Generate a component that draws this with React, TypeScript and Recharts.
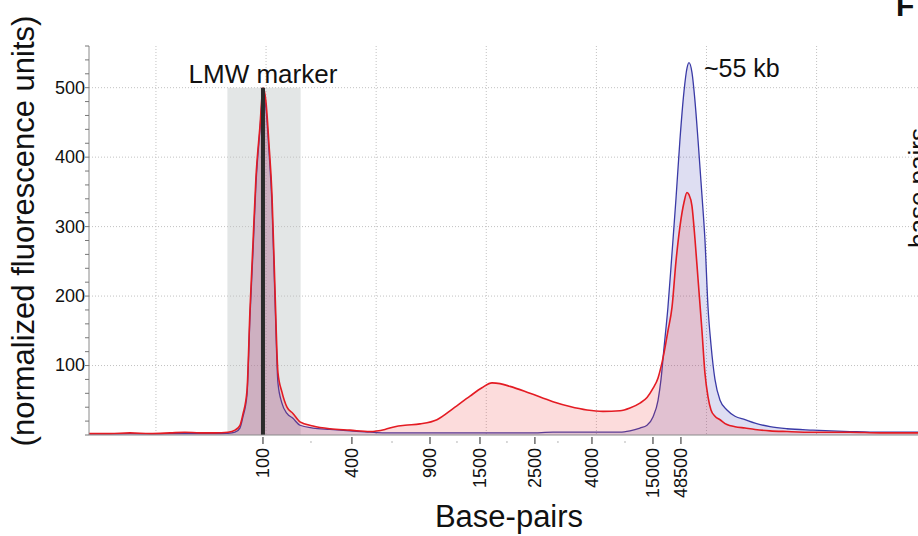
import React from 'react';
import {
  ComposedChart,
  Area,
  XAxis,
  YAxis,
  CartesianGrid,
  ReferenceArea,
  ReferenceLine,
  ReferenceDot,
} from 'recharts';

const FONT = '"Liberation Sans", Arial, Helvetica, sans-serif';

// Migration time (s) of each sampled point of the electropherogram
const runTime = [
  3.92, 5.82, 7.64, 9.46, 11.27, 12.63, 14.0, 15.36, 16.54, 17.18, 17.63, 17.9, 18.27, 18.54, 18.81,
  19.08, 19.45, 19.72, 19.99, 20.26, 20.54, 20.81, 21.08, 21.44, 21.9, 22.44, 23.08, 24.26, 25.8,
  27.62, 29.44, 30.8, 31.71, 32.62, 33.98, 35.52, 36.98, 38.52, 39.61, 40.52, 41.24, 42.15, 43.97,
  46.06, 47.6, 49.15, 50.6, 52.14, 53.05, 53.96, 54.6, 55.14, 55.6, 55.87, 56.14, 56.5, 56.87,
  57.23, 57.59, 57.96, 58.23, 58.41, 58.68, 58.96, 59.23, 59.59, 59.86, 60.14, 60.41, 60.77,
  61.23, 61.86, 62.59, 63.5, 64.41, 65.77, 67.31, 69.67, 73.03, 75.76, 79.21,
];

// Normalized fluorescence, blue trace
const rfuBlue = [
  1.5, 1.5, 2, 1.5, 2, 2, 2, 2, 2.5, 4, 10, 26, 58, 170, 262,
  360, 440, 492, 470, 410, 330, 195, 75, 46, 31, 24, 14, 10, 8,
  6, 4, 3, 3, 3, 3, 3, 3, 3, 3, 3, 3, 3, 3,
  4, 4, 4, 4, 4, 6, 10, 14, 26, 50, 80, 125, 184, 262,
  340, 425, 495, 528, 536, 522, 480, 425, 345, 281, 184, 130, 80,
  50, 36, 27, 22, 17, 12, 9, 7, 5, 4, 4,
];

// Normalized fluorescence, red trace
const rfuRed = [
  2, 2, 3, 2, 3, 4, 3, 3, 4, 7, 14, 30, 64, 180, 275,
  370, 445, 500, 480, 420, 345, 210, 90, 62, 40, 31, 19, 13, 9,
  7, 5, 8, 12, 14, 16, 22, 38, 56, 68, 75, 74, 70, 60,
  48, 41, 36, 34, 35, 39, 46, 54, 67, 82, 98, 118, 150, 184,
  250, 300, 335, 349, 346, 330, 281, 225, 150, 89, 55, 36, 27,
  22, 15, 12, 10, 8, 6, 5, 4, 4, 3, 3,
];

// Size-ladder bands (run time -> base pairs)
const ladderTime = [19.72, 27.8, 34.89, 39.43, 44.42, 49.6, 55.14, 57.68];
const ladderBp = ['100', '400', '900', '1500', '2500', '4000', '15000', '48500'];
const minorLadderTime = [24.08, 31.44, 37.34, 41.88, 46.51, 52.6];

const gridTime = [10, 20, 30, 40, 50, 60, 70];
const rfuTicks = [
  0, 20, 40, 60, 80, 100, 120, 140, 160, 180, 200, 220, 240, 260, 280, 300, 320, 340, 360, 380,
  400, 420, 440, 460, 480, 500, 520, 540, 560,
];
const rfuLabelled = [100, 200, 300, 400, 500];

const markerWindow = [16.49, 23.14];
const markerTime = 19.72;
const markerRfu = 500;
const peakTime = 58.41;
const peakRfu = 536;

const data = runTime.map((t, i) => ({ t, blue: rfuBlue[i], red: rfuRed[i] }));

const XTick = (props: any) => {
  const { x, y, payload } = props;
  const idx = ladderTime.indexOf(payload.value);
  if (idx < 0) {
    return <line x1={x} y1={y + 6} x2={x} y2={y + 8} stroke="#b5b5b5" strokeWidth={1} />;
  }
  return (
    <g>
      <line x1={x} y1={y + 2} x2={x} y2={y + 9} stroke="#222" strokeWidth={1} />
      <text
        x={x + 6}
        y={y + 13}
        transform={`rotate(-90, ${x + 6}, ${y + 13})`}
        textAnchor="end"
        fontFamily={FONT}
        fontSize={18}
        fill="#111"
      >
        {ladderBp[idx]}
      </text>
    </g>
  );
};

const YTick = (props: any) => {
  const { x, y, payload } = props;
  const showLabel = rfuLabelled.includes(payload.value);
  return (
    <g>
      <line x1={x - 4} y1={y} x2={x} y2={y} stroke="#777" strokeWidth={1} />
      {showLabel && (
        <text x={x - 4} y={y} dy="0.33em" textAnchor="end" fontFamily={FONT} fontSize={18} fill="#111">
          {payload.value}
        </text>
      )}
    </g>
  );
};

const YLabel = (props: any) => {
  const vb = props.viewBox || { x: 0, y: 46 };
  const cx = vb.x + 34;
  const cy = vb.y + 185;
  return (
    <text
      x={cx}
      y={cy}
      transform={`rotate(-90, ${cx}, ${cy})`}
      textAnchor="middle"
      fontFamily={FONT}
      fontSize={31}
      fill="#111"
    >
      (normalized fluorescence units)
    </text>
  );
};

const XLabel = (props: any) => {
  const vb = props.viewBox || { x: 89, y: 435 };
  return (
    <text x={vb.x + 420} y={vb.y + 92} textAnchor="middle" fontFamily={FONT} fontSize={31} fill="#111">
      Base-pairs
    </text>
  );
};

const MarkerLabel = (props: any) => {
  const vb = props.viewBox || { x: 0, y: 0, width: 0, height: 0 };
  const cx = vb.x + (vb.width || 0) / 2;
  const cy = vb.y + (vb.height || 0) / 2;
  return (
    <text x={cx} y={cy - 5} textAnchor="middle" fontFamily={FONT} fontSize={26} fill="#111">
      LMW marker
    </text>
  );
};

const PeakLabel = (props: any) => {
  const vb = props.viewBox || { x: 0, y: 0, width: 0, height: 0 };
  const cx = vb.x + (vb.width || 0) / 2;
  const cy = vb.y + (vb.height || 0) / 2;
  return (
    <text x={cx + 15} y={cy + 14} textAnchor="start" fontFamily={FONT} fontSize={25} fill="#111">
      ~55 kb
    </text>
  );
};

export default function App() {
  return (
    <div style={{ position: 'absolute', left: 0, top: 0, width: 918, height: 536, background: '#fff', overflow: 'hidden' }}>
      <ComposedChart width={918} height={536} data={data} margin={{ top: 46, right: 0, bottom: 0, left: 0 }}>
        <ReferenceArea
          x1={markerWindow[0]}
          x2={markerWindow[1]}
          y1={0}
          y2={markerRfu}
          fill="#e3e6e6"
          fillOpacity={1}
          stroke="none"
          ifOverflow="visible"
          zIndex={-150}
        />
        <CartesianGrid
          stroke="#c2c2c2"
          strokeDasharray="1 2"
          horizontalValues={rfuLabelled}
          verticalValues={gridTime}
        />
        <XAxis
          type="number"
          dataKey="t"
          domain={[3.92, 79.21]}
          ticks={[...ladderTime, ...minorLadderTime]}
          interval={0}
          tick={<XTick />}
          tickLine={false}
          tickSize={0}
          tickMargin={0}
          axisLine={{ stroke: '#8a8a8a' }}
          height={101}
          allowDataOverflow
          label={XLabel}
        />
        <YAxis
          type="number"
          domain={[0, 560]}
          ticks={rfuTicks}
          interval={0}
          tick={<YTick />}
          tickLine={false}
          tickSize={0}
          tickMargin={0}
          axisLine={{ stroke: '#8a8a8a' }}
          width={89}
          allowDataOverflow
          label={YLabel}
        />
        <Area
          type="monotone"
          dataKey="blue"
          stroke="#3a3aa6"
          strokeWidth={1.3}
          fill="#5a5ac0"
          fillOpacity={0.2}
          isAnimationActive={false}
          dot={false}
          activeDot={false}
        />
        <Area
          type="monotone"
          dataKey="red"
          stroke="#e41b23"
          strokeWidth={1.6}
          fill="#f03c3c"
          fillOpacity={0.18}
          isAnimationActive={false}
          dot={false}
          activeDot={false}
        />
        <ReferenceLine
          segment={[
            { x: markerTime, y: 0 },
            { x: markerTime, y: markerRfu },
          ]}
          stroke="#2b2b2b"
          strokeWidth={4}
        />
        <ReferenceDot x={markerTime} y={markerRfu} r={0} stroke="none" fill="none" label={MarkerLabel} />
        <ReferenceDot x={peakTime} y={peakRfu} r={0} stroke="none" fill="none" label={PeakLabel} />
      </ComposedChart>
      <svg width={918} height={536} style={{ position: 'absolute', left: 0, top: 0, pointerEvents: 'none' }}>
        <text x={896} y={16} fontFamily={FONT} fontSize={30} fontWeight="bold" fill="#111">
          F
        </text>
        <text
          x={927}
          y={188}
          transform="rotate(-90, 927, 188)"
          textAnchor="middle"
          fontFamily={FONT}
          fontSize={26}
          fill="#111"
        >
          base pairs
        </text>
      </svg>
    </div>
  );
}
